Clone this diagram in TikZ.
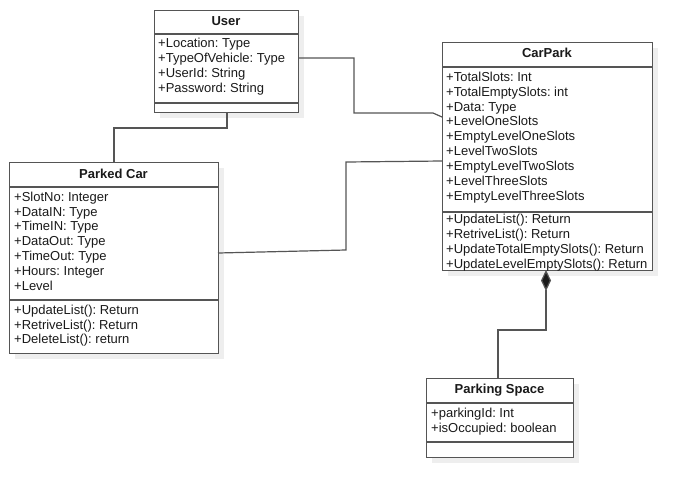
\documentclass[tikz,border=0pt]{standalone}
\usepackage{fontspec}
\setmainfont{Liberation Sans}
\frenchspacing
\usetikzlibrary{arrows.meta}
\definecolor{edge}{HTML}{555555}
\definecolor{shadowgray}{HTML}{EEEEEE}
\definecolor{ink}{HTML}{1A1A1A}
\newcommand\umlbox[7]{% name, x, y, w, h, sep1, sep2
  \fill[shadowgray] (#2+6,#3+6) rectangle (#2+#4+6,#3+#5+6);
  \node[draw=edge, line width=1.2pt, fill=white, inner sep=0pt, anchor=north west,
        minimum width=#4pt, minimum height=#5pt] (#1) at (#2,#3) {};
  \draw[edge, line width=1.2pt] (#1.west |- 0,#6) -- (#1.east |- 0,#6);
  \draw[edge, line width=1.2pt] (#1.west |- 0,#7) -- (#1.east |- 0,#7);
}
\begin{document}
\begin{tikzpicture}[x=1pt,y=-1pt,
  attr/.style={anchor=west, inner sep=0pt, text=ink, font=\fontsize{13}{15}\selectfont,
               text height=9.5pt, text depth=3pt},
  title/.style={inner sep=0pt, text=ink, font=\fontsize{13}{15}\selectfont\bfseries,
               text height=9.5pt, text depth=3pt},
  conn/.style={draw=edge, line width=1.2pt}]
\useasboundingbox[fill=white] (0,0) rectangle (692,498);

% User
\umlbox{user}{154}{10}{144}{102}{34}{103}
\node[title] (usert) at (226,22) {User};
\foreach \t [count=\i] in {+Location: Type,+TypeOfVehicle: Type,+UserId: String,+Password: String}
  \node[attr] (ua\i) at (158,{44.5+15*(\i-1)}) {\t};

% Parked Car
\umlbox{pc}{9}{162}{209}{191}{187}{300}
\node[title] (pct) at (113.5,175) {Parked Car};
\foreach \t [count=\i] in {+SlotNo: Integer,+DataIN: Type,+TimeIN: Type,+DataOut: Type,+TimeOut: Type,+Hours: Integer,+Level}
  \node[attr] (pa\i) at (14,{198+14.85*(\i-1)}) {\t};
\foreach \t [count=\i] in {+UpdateList(): Return,+RetriveList(): Return,+DeleteList(): return}
  \node[attr] (pm\i) at (14,{311+14.85*(\i-1)}) {\t};

% CarPark
\umlbox{cp}{442}{42}{210}{228}{67}{212}
\node[title] (cpt) at (547,54) {CarPark};
\foreach \t [count=\i] in {+TotalSlots: Int,+TotalEmptySlots: int,+Data: Type,+LevelOneSlots,+EmptyLevelOneSlots,+LevelTwoSlots,+EmptyLevelTwoSlots,+LevelThreeSlots,+EmptyLevelThreeSlots}
  \node[attr] (ca\i) at (446,{78+14.9*(\i-1)}) {\t};
\foreach \t [count=\i] in {+UpdateList(): Return,+RetriveList(): Return,+UpdateTotalEmptySlots(): Return,+UpdateLevelEmptySlots(): Return}
  \node[attr] (cm\i) at (446,{220.5+14.8*(\i-1)}) {\t};

% Parking Space
\umlbox{ps}{426}{378}{147}{79}{403}{442}
\node[title] (pst) at (499.5,390) {Parking Space};
\foreach \t [count=\i] in {+parkingId: Int,+isOccupied: boolean}
  \node[attr] (sa\i) at (431,{414+15*(\i-1)}) {\t};

% connectors
\coordinate (uright) at (298,58);
\coordinate (cpleft1) at (442,117);
\coordinate (pcright) at (218,253);
\coordinate (cpleft2) at (442,161);
\coordinate (cpbottom) at (546,270);
\coordinate (psTop) at (498,378);
\coordinate (ubottom) at (227,112);
\coordinate (pcTop) at (114,162);

\draw[conn] (ubottom) -- (227,128) -- (114,128) -- (pcTop);
\draw[conn] (uright) -- (354,58) -- (354,113) -- (433,113) -- (cpleft1);
\draw[conn] (pcright) -- (346,250) -- (346,162) -- (cpleft2);
\draw[conn, -{Diamond[length=21pt,width=10pt,fill=ink]}] (psTop) -- (498,330) -- (546,330) -- (cpbottom);
\end{tikzpicture}
\end{document}
